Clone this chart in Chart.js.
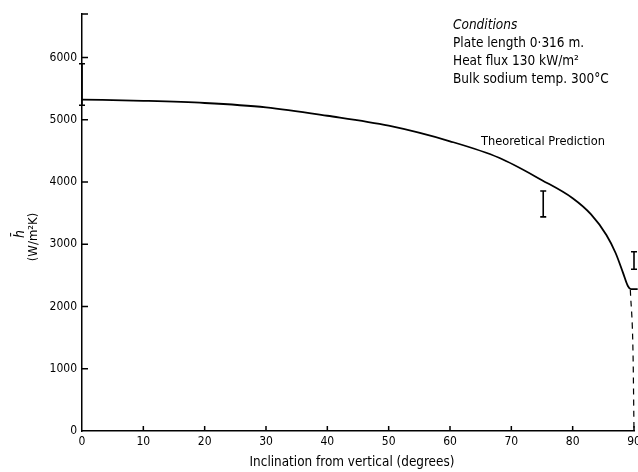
<!DOCTYPE html>
<html>
<head>
<meta charset="utf-8">
<script src="https://cdn.jsdelivr.net/npm/chart.js@4.4.0/dist/chart.umd.min.js"></script>
<style>
    body { margin: 0; background: #fff; }
    #chart { display: block; }
</style>
</head>
<body>
<canvas id="chart" width="638" height="472"></canvas>
<script>
// theoretical prediction, h (W/m2K) against inclination (degrees)
var curveX = [0, 10, 20, 30, 40, 50, 60, 68, 75, 80, 83, 85.5, 87, 88.2, 89, 89.5, 90.6];
var curveY = [5325, 5305, 5270, 5200, 5065, 4905, 4655, 4390, 4030, 3740, 3480, 3150, 2860, 2545, 2330, 2280, 2280];

// dashed continuation down to zero at 90 degrees
var dashX = [89.4, 89.85, 90];
var dashY = [2270, 1200, 0];

// measured ranges (error bars)
var errX = [0, 75.2, 90];
var errLow = [5235, 3440, 2600];
var errHigh = [5900, 3855, 2880];

var xTicks = [0, 10, 20, 30, 40, 50, 60, 70, 80, 90];
var yTicks = [0, 1000, 2000, 3000, 4000, 5000, 6000, 6700];

var conditions = ['Plate length 0\u00b7316 m.', 'Heat flux 130 kW/m\u00b2', 'Bulk sodium temp. 300\u00b0C'];

var fontName = '"DejaVu Sans Condensed", "DejaVu Sans", sans-serif';

function toPoints(xs, ys) {
    return xs.map(function (x, i) { return { x: x, y: ys[i] }; });
}

var extrasPlugin = {
    id: 'extras',
    afterDraw: function (chart) {
        var ctx = chart.ctx;
        var xs = chart.scales.x;
        var ys = chart.scales.y;
        var area = chart.chartArea;

        ctx.save();
        ctx.strokeStyle = '#000';
        ctx.lineWidth = 1.5;

        // inward tick marks
        ctx.beginPath();
        xTicks.forEach(function (t) {
            if (t === 0) return;
            var px = xs.getPixelForValue(t);
            ctx.moveTo(px, area.bottom);
            ctx.lineTo(px, area.bottom - 5);
        });
        yTicks.forEach(function (t) {
            if (t === 0) return;
            var py = ys.getPixelForValue(t);
            ctx.moveTo(area.left, py);
            ctx.lineTo(area.left + 6, py);
        });
        ctx.stroke();

        // error bars
        ctx.lineWidth = 1.6;
        ctx.beginPath();
        errX.forEach(function (x, i) {
            var px = xs.getPixelForValue(x);
            var top = ys.getPixelForValue(errHigh[i]);
            var bot = ys.getPixelForValue(errLow[i]);
            ctx.moveTo(px, top);
            ctx.lineTo(px, bot);
            ctx.moveTo(px - 3, top);
            ctx.lineTo(px + 3, top);
            ctx.moveTo(px - 3, bot);
            ctx.lineTo(px + 3, bot);
        });
        ctx.stroke();

        // texts
        ctx.fillStyle = '#000';
        ctx.textBaseline = 'middle';
        ctx.textAlign = 'left';
        ctx.font = 'italic 13.5px ' + fontName;
        ctx.fillText('Conditions', 453, 25);
        ctx.font = '13.5px ' + fontName;
        conditions.forEach(function (line, i) {
            ctx.fillText(line, 453, 43 + i * 18);
        });
        ctx.font = '12.7px ' + fontName;
        ctx.fillText('Theoretical Prediction', 481, 142);

        ctx.textAlign = 'center';
        ctx.font = '13.4px ' + fontName;
        ctx.fillText('Inclination from vertical (degrees)', 352, 463);

        ctx.translate(0, 237);
        ctx.rotate(-Math.PI / 2);
        ctx.font = 'italic 14px ' + fontName;
        ctx.fillText('h\u0304', 3, 20);
        ctx.font = '13px ' + fontName;
        ctx.fillText('(W/m\u00b2K)', 0, 34);
        ctx.restore();
    }
};

var ctx = document.getElementById('chart');
var myChart = new Chart(ctx, {
    type: 'scatter',
    data: {
        datasets: [
            {
                data: toPoints(curveX, curveY),
                showLine: true,
                borderColor: '#000',
                borderWidth: 1.8,
                pointRadius: 0,
                cubicInterpolationMode: 'monotone',
                clip: false
            },
            {
                data: toPoints(dashX, dashY),
                showLine: true,
                borderColor: '#000',
                borderWidth: 1.2,
                borderDash: [6, 5],
                pointRadius: 0,
                cubicInterpolationMode: 'monotone',
                clip: false
            }
        ]
    },
    options: {
        responsive: false,
        animation: false,
        devicePixelRatio: 1,
        layout: { padding: { top: 14, right: 4, left: 0, bottom: 0 } },
        plugins: {
            legend: { display: false },
            tooltip: { enabled: false }
        },
        scales: {
            x: {
                type: 'linear',
                min: 0,
                max: 90,
                afterBuildTicks: function (scale) {
                    scale.ticks = xTicks.map(function (v) { return { value: v }; });
                },
                afterFit: function (scale) {
                    scale.height = 41;
                    scale.paddingLeft = 0;
                    scale.paddingRight = 0;
                },
                grid: { display: false, drawTicks: false },
                border: { display: true, color: '#000', width: 1.5 },
                ticks: {
                    color: '#000',
                    padding: 4,
                    maxRotation: 0,
                    font: { family: fontName, size: 12 }
                }
            },
            y: {
                type: 'linear',
                min: 0,
                max: 6700,
                afterBuildTicks: function (scale) {
                    scale.ticks = yTicks.map(function (v) { return { value: v }; });
                },
                afterFit: function (scale) {
                    scale.width = 82;
                    scale.paddingTop = 0;
                    scale.paddingBottom = 0;
                },
                grid: { display: false, drawTicks: false },
                border: { display: true, color: '#000', width: 1.5 },
                ticks: {
                    color: '#000',
                    padding: 5,
                    font: { family: fontName, size: 12 },
                    callback: function (v) { return v === 6700 ? '' : v; }
                }
            }
        }
    },
    plugins: [extrasPlugin]
});
</script>
</body>
</html>
